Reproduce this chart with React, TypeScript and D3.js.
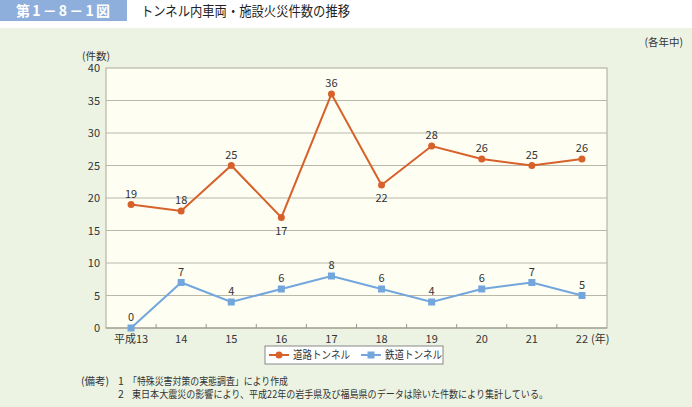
import { useEffect, useRef } from "react";
import * as d3 from "d3";

const years = ["平成13", "14", "15", "16", "17", "18", "19", "20", "21", "22"];
const roadTunnel = [19, 18, 25, 17, 36, 22, 28, 26, 25, 26];
const railTunnel = [0, 7, 4, 6, 8, 6, 4, 6, 7, 5];
const roadBelow = [false, false, false, true, false, true, false, false, false, false];
const yTicks = [0, 5, 10, 15, 20, 25, 30, 35, 40];

const FONT = "'Noto Sans CJK JP', 'Noto Sans', sans-serif";
const ORANGE = "#d7612a";
const BLUE = "#72a6dd";

export default function App() {
  const svgRef = useRef<SVGSVGElement>(null);

  useEffect(() => {
    if (!svgRef.current) return;
    const svg = d3.select(svgRef.current);
    svg.selectAll("*").remove();
    const W = 692, H = 407;
    const left = 106, right = 607, top = 68, bottom = 328;

    svg.append("rect").attr("x", 0).attr("y", 28).attr("width", W).attr("height", H - 28).attr("fill", "#edf3e3");
    svg.append("rect").attr("x", 0).attr("y", 0).attr("width", 127).attr("height", 21).attr("fill", "#8eaedb");
    svg.append("text").attr("x", 16).attr("y", 16)
      .attr("font-size", 14).attr("font-weight", "bold").attr("fill", "#fff").attr("font-family", FONT)
      .attr("textLength", 94).attr("lengthAdjust", "spacing")
      .text("第1－8－1図");
    svg.append("text").attr("x", 141).attr("y", 16).attr("font-size", 13.5).attr("fill", "#222")
      .attr("font-family", FONT).attr("textLength", 209).attr("lengthAdjust", "spacingAndGlyphs")
      .text("トンネル内車両・施設火災件数の推移");

    const x = d3.scaleBand<string>().domain(years).range([left, right]);
    const y = d3.scaleLinear().domain([0, 40]).range([bottom, top]);

    svg.append("rect").attr("x", left).attr("y", top).attr("width", right - left).attr("height", bottom - top)
      .attr("fill", "#fefef3").attr("stroke", "#aaa79a");

    const g = svg.append("g").attr("font-family", FONT);
    g.selectAll(".grid").data(yTicks.filter(t => t > 0 && t < 40)).enter().append("line")
      .attr("x1", left).attr("x2", right).attr("y1", d => y(d)).attr("y2", d => y(d))
      .attr("stroke", "#b8b7a8").attr("stroke-width", 1);
    g.append("line").attr("x1", left).attr("x2", right).attr("y1", bottom).attr("y2", bottom).attr("stroke", "#9a988c");

    g.selectAll(".ytl").data(yTicks).enter().append("text")
      .attr("x", left - 6).attr("y", d => y(d) + 4).attr("text-anchor", "end")
      .attr("font-size", 11).attr("fill", "#333").text(d => d);
    g.append("text").attr("x", 82).attr("y", 60).attr("font-size", 10.5).attr("fill", "#333").text("(件数)");
    g.append("text").attr("x", 683).attr("y", 46).attr("text-anchor", "end").attr("font-size", 10.5).attr("fill", "#333").text("(各年中)");

    // category ticks
    g.selectAll(".xt").data(years.slice(1)).enter().append("line")
      .attr("x1", d => x(d)!).attr("x2", d => x(d)!).attr("y1", bottom).attr("y2", bottom - 4)
      .attr("stroke", "#9a988c");
    g.selectAll(".xtl").data(years).enter().append("text")
      .attr("x", d => x(d)! + x.bandwidth() / 2).attr("y", bottom + 15).attr("text-anchor", "middle")
      .attr("font-size", 11).attr("fill", "#333").text(d => d);
    g.append("text").attr("x", x("22")! + x.bandwidth() / 2 + 9).attr("y", bottom + 15)
      .attr("font-size", 11).attr("fill", "#333").text("(年)");

    const cx = (i: number) => x(years[i])! + x.bandwidth() / 2;
    const line = d3.line<number>().x((_, i) => cx(i)).y(d => y(d));

    g.append("path").datum(roadTunnel).attr("d", line).attr("fill", "none").attr("stroke", ORANGE).attr("stroke-width", 2);
    g.selectAll(".rd").data(roadTunnel).enter().append("circle")
      .attr("cx", (_, i) => cx(i)).attr("cy", d => y(d)).attr("r", 3.5).attr("fill", ORANGE);
    g.selectAll(".rl").data(roadTunnel).enter().append("text")
      .attr("x", (_, i) => cx(i)).attr("y", (d, i) => (roadBelow[i] ? y(d) + 17 : y(d) - 7))
      .attr("text-anchor", "middle").attr("font-size", 11).attr("fill", "#333").text(d => d);

    g.append("path").datum(railTunnel).attr("d", line).attr("fill", "none").attr("stroke", BLUE).attr("stroke-width", 2);
    g.selectAll(".bd").data(railTunnel).enter().append("rect")
      .attr("x", (_, i) => cx(i) - 3.5).attr("y", d => y(d) - 3.5).attr("width", 7).attr("height", 7).attr("fill", BLUE);
    g.selectAll(".bl").data(railTunnel).enter().append("text")
      .attr("x", (_, i) => cx(i)).attr("y", d => y(d) - 7)
      .attr("text-anchor", "middle").attr("font-size", 11).attr("fill", "#333").text(d => d);

    // legend
    const lg = g.append("g");
    lg.append("rect").attr("x", 265).attr("y", 346).attr("width", 178).attr("height", 18)
      .attr("fill", "#fff").attr("stroke", "#888");
    lg.append("line").attr("x1", 269).attr("x2", 289).attr("y1", 355).attr("y2", 355).attr("stroke", ORANGE).attr("stroke-width", 2);
    lg.append("circle").attr("cx", 279).attr("cy", 355).attr("r", 3.5).attr("fill", ORANGE);
    lg.append("text").attr("x", 293).attr("y", 359).attr("font-size", 11).attr("fill", "#333")
      .attr("textLength", 57).attr("lengthAdjust", "spacingAndGlyphs").text("道路トンネル");
    lg.append("line").attr("x1", 361).attr("x2", 381).attr("y1", 355).attr("y2", 355).attr("stroke", BLUE).attr("stroke-width", 2);
    lg.append("rect").attr("x", 367.5).attr("y", 351.5).attr("width", 7).attr("height", 7).attr("fill", BLUE);
    lg.append("text").attr("x", 385).attr("y", 359).attr("font-size", 11).attr("fill", "#333")
      .attr("textLength", 57).attr("lengthAdjust", "spacingAndGlyphs").text("鉄道トンネル");

    // notes
    const notes = g.append("g").attr("font-size", 10.5).attr("fill", "#333");
    notes.append("text").attr("x", 81).attr("y", 385).text("(備考)");
    notes.append("text").attr("x", 118).attr("y", 385).text("1");
    notes.append("text").attr("x", 128).attr("y", 385)
      .attr("textLength", 160).attr("lengthAdjust", "spacingAndGlyphs").text("「特殊災害対策の実態調査」により作成");
    notes.append("text").attr("x", 118).attr("y", 398).text("2");
    notes.append("text").attr("x", 132).attr("y", 398)
      .attr("textLength", 416).attr("lengthAdjust", "spacingAndGlyphs")
      .text("東日本大震災の影響により、平成22年の岩手県及び福島県のデータは除いた件数により集計している。");
  }, []);

  return (
    <svg ref={svgRef} width={692} height={407} style={{ position: "absolute", left: 0, top: 0 }} />
  );
}
